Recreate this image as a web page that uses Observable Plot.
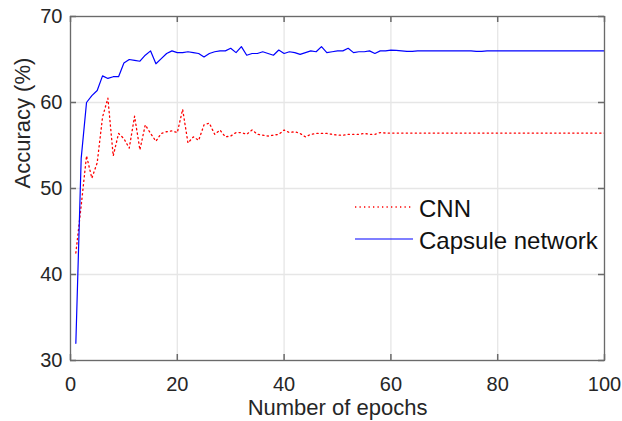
<!DOCTYPE html>
<html><head><meta charset="utf-8">
<script src="https://cdn.jsdelivr.net/npm/d3@7"></script>
<script src="https://cdn.jsdelivr.net/npm/@observablehq/plot@0.6"></script>
<style>
html,body{margin:0;padding:0;background:#fff;}
#chart{position:relative;width:622px;height:421px;overflow:hidden;font-family:"Liberation Sans",Arial,sans-serif;}
#legend{position:absolute;left:0;top:0;pointer-events:none;}
</style></head><body><div id="chart"></div>
<script>
const epochs = d3.range(1, 101);
const cnnAcc = [
  42.5, 48.0, 53.8, 51.2, 53.0, 58.3, 60.5, 53.8, 56.4, 55.8,
  54.7, 58.4, 54.5, 57.4, 56.4, 55.5, 56.4, 56.6, 56.7, 56.5,
  59.2, 55.3, 56.0, 55.6, 57.4, 57.6, 56.3, 56.8, 56.0, 56.1,
  56.5, 56.5, 56.3, 56.8, 56.3, 56.2, 56.1, 56.2, 56.3, 56.8,
  56.5, 56.6, 56.4, 56.0, 56.3, 56.4, 56.4, 56.4, 56.3, 56.2,
  56.2, 56.3, 56.3, 56.3, 56.4, 56.3, 56.3, 56.5, 56.45, 56.45,
  56.45, 56.45, 56.45, 56.45, 56.45, 56.45, 56.45, 56.45, 56.45, 56.45,
  56.45, 56.45, 56.45, 56.45, 56.45, 56.45, 56.45, 56.45, 56.45, 56.45,
  56.45, 56.45, 56.45, 56.45, 56.45, 56.45, 56.45, 56.45, 56.45, 56.45,
  56.45, 56.45, 56.45, 56.45, 56.45, 56.45, 56.45, 56.45, 56.45, 56.45
];
const capsAcc = [
  32.0, 53.5, 60.0, 60.8, 61.4, 63.1, 62.8, 63.0, 63.0, 64.6,
  65.0, 64.9, 64.8, 65.5, 66.0, 64.5, 65.1, 65.7, 66.0, 65.8,
  65.8, 65.9, 65.8, 65.7, 65.3, 65.7, 65.9, 66.0, 66.0, 66.3,
  65.8, 66.5, 65.5, 65.7, 65.7, 65.9, 65.7, 65.5, 66.1, 65.7,
  65.9, 65.8, 65.6, 65.8, 66.0, 65.9, 66.5, 65.8, 65.9, 66.0,
  66.0, 66.3, 65.8, 65.9, 65.9, 66.0, 65.7, 66.0, 66.0, 66.1,
  66.05, 66.0, 65.95, 65.95, 66.0, 66.0, 66.0, 66.0, 66.0, 66.0,
  66.0, 66.0, 66.0, 66.0, 66.0, 65.95, 65.95, 66.0, 66.0, 66.0,
  66.0, 66.0, 66.0, 66.0, 66.0, 66.0, 66.0, 66.0, 66.0, 66.0,
  66.0, 66.0, 66.0, 66.0, 66.0, 66.0, 66.0, 66.0, 66.0, 66.0
];
const xTicks = [0, 20, 40, 60, 80, 100];
const yTicks = [30, 40, 50, 60, 70];
const seriesNames = ["CNN", "Capsule network"];
const seriesColors = ["#ff0000", "#0000ff"];
const xLabel = "Number of epochs";
const yLabel = "Accuracy (%)";

const cnnRows = epochs.map((e, i) => ({epoch: e, acc: cnnAcc[i]}));
const capsRows = epochs.map((e, i) => ({epoch: e, acc: capsAcc[i]}));

const W = 622, H = 421, mL = 70, mR = 18, mT = 16, mB = 61;
const innerW = W - mL - mR, innerH = H - mT - mB;
const tickLen = 6;
const axisColor = "#6a6a6a";
const gridColor = "#e6e6e6";
const font = "'Liberation Sans', Arial, Helvetica, sans-serif";
const dotted = "1.3,3.2";

const plot = Plot.plot({
  width: W, height: H,
  marginLeft: mL, marginRight: mR, marginTop: mT, marginBottom: mB,
  style: {fontFamily: font, color: "#262626", background: "white", overflow: "visible"},
  x: {domain: [0, 100], ticks: xTicks},
  y: {domain: [30, 70], ticks: yTicks},
  marks: [
    Plot.gridX(xTicks, {stroke: gridColor, strokeOpacity: 1, strokeWidth: 1.3}),
    Plot.gridY(yTicks, {stroke: gridColor, strokeOpacity: 1, strokeWidth: 1.3}),
    Plot.line(cnnRows, {x: "epoch", y: "acc", stroke: seriesColors[0], strokeWidth: 1.3, strokeDasharray: dotted}),
    Plot.line(capsRows, {x: "epoch", y: "acc", stroke: seriesColors[1], strokeWidth: 1.2}),
    Plot.tickX(xTicks, {x: d => d, stroke: axisColor, strokeWidth: 1.5, insetTop: innerH - tickLen}),
    Plot.tickX(xTicks, {x: d => d, stroke: axisColor, strokeWidth: 1.5, insetBottom: innerH - tickLen}),
    Plot.tickY(yTicks, {y: d => d, stroke: axisColor, strokeWidth: 1.5, insetRight: innerW - tickLen}),
    Plot.tickY(yTicks, {y: d => d, stroke: axisColor, strokeWidth: 1.5, insetLeft: innerW - tickLen}),
    Plot.frame({stroke: axisColor, strokeWidth: 1.3}),
    Plot.axisX(xTicks, {tickSize: 0, tickPadding: 16, fontSize: 20, label: null}),
    Plot.axisY(yTicks, {tickSize: 0, tickPadding: 8, fontSize: 20, label: null}),
    Plot.text([xLabel], {text: d => d, frameAnchor: "bottom", dy: 54, fontSize: 22, fill: "#262626"}),
    Plot.text([yLabel], {text: d => d, frameAnchor: "left", dx: -48, rotate: -90, fontSize: 22, fill: "#262626"})
  ]
});
const chart = document.getElementById("chart");
chart.appendChild(plot);

// legend (inside the axes, no box)
const legend = d3.select(chart).append("svg")
  .attr("id", "legend").attr("width", W).attr("height", H)
  .style("font-family", font);
const legendX = 355, legendTop = 207, legendStep = 32;
seriesNames.forEach((name, i) => {
  const y = legendTop + i * legendStep;
  legend.append("line")
    .attr("x1", legendX).attr("x2", legendX + 58).attr("y1", y).attr("y2", y)
    .attr("stroke", seriesColors[i]).attr("stroke-width", i === 0 ? 1.3 : 1.2)
    .attr("stroke-dasharray", i === 0 ? dotted : null);
  legend.append("text")
    .attr("x", legendX + 64).attr("y", y + 1.5)
    .attr("dy", "0.35em").attr("font-size", 24).attr("fill", "#111")
    .text(name);
});
</script></body></html>
